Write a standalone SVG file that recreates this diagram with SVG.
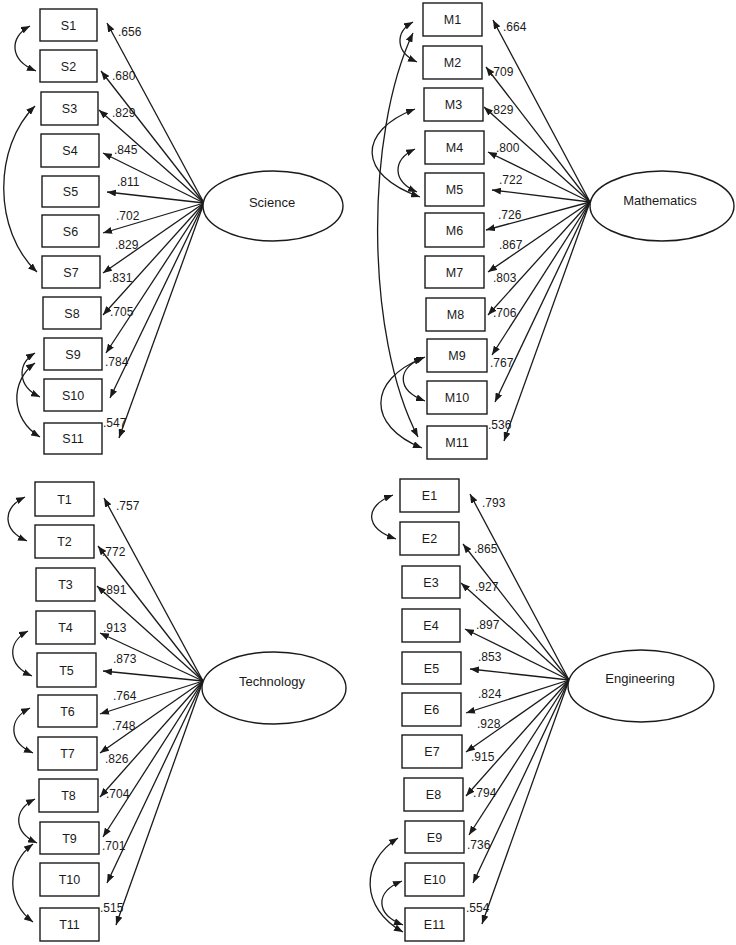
<svg xmlns="http://www.w3.org/2000/svg" width="736" height="945" viewBox="0 0 736 945">
<style>
.box{fill:#fff;stroke:#1a1a1a;stroke-width:1.4}
.lat{fill:#fff;stroke:#1a1a1a;stroke-width:1.4}
.nt{font-family:"Liberation Sans",Arial,sans-serif;font-size:12.5px;fill:#1a1a1a;text-anchor:middle}
.lt{font-family:"Liberation Sans",Arial,sans-serif;font-size:13px;fill:#1a1a1a;text-anchor:middle}
.ln{stroke:#1a1a1a;stroke-width:1.3;fill:none;marker-end:url(#ah)}
.cv{stroke:#1a1a1a;stroke-width:1.3;fill:none;marker-start:url(#ah);marker-end:url(#ah)}
.lb{font-family:"Liberation Sans",Arial,sans-serif;font-size:12px;fill:#1a1a1a}
</style>
<defs>
<marker id="ah" markerUnits="userSpaceOnUse" markerWidth="9" markerHeight="7" refX="9" refY="3.5" orient="auto-start-reverse" viewBox="0 0 9 7">
<path d="M0,0 L9,3.5 L0,7 z" fill="#1a1a1a"/>
</marker>
</defs>
<rect width="736" height="945" fill="#fff"/>

<g id="connectors">
<!-- Science loadings -->
<line class="ln" x1="204" y1="203" x2="107" y2="23"/>
<line class="ln" x1="204" y1="203" x2="101" y2="71"/>
<line class="ln" x1="204" y1="203" x2="99" y2="110"/>
<line class="ln" x1="204" y1="203" x2="103" y2="153"/>
<line class="ln" x1="204" y1="203" x2="107" y2="192"/>
<line class="ln" x1="204" y1="203" x2="103" y2="233"/>
<line class="ln" x1="204" y1="203" x2="103" y2="273"/>
<line class="ln" x1="204" y1="203" x2="103" y2="315"/>
<line class="ln" x1="204" y1="203" x2="106" y2="353"/>
<line class="ln" x1="204" y1="203" x2="110" y2="398"/>
<line class="ln" x1="204" y1="203" x2="119" y2="438"/>
<!-- Science correlations -->
<path class="cv" d="M30,26 C9,37 9,60 36,71"/>
<path class="cv" d="M35,106 C-7,147 -7,231 37,272"/>
<path class="cv" d="M35,353 C17,364 17,386 40,397"/>
<path class="cv" d="M35,363 C10,381 10,419 40,437"/>
<!-- Math loadings -->
<line class="ln" x1="590" y1="202" x2="493" y2="20"/>
<line class="ln" x1="590" y1="202" x2="486" y2="67"/>
<line class="ln" x1="590" y1="202" x2="484" y2="107"/>
<line class="ln" x1="590" y1="202" x2="488" y2="152"/>
<line class="ln" x1="590" y1="202" x2="492" y2="190"/>
<line class="ln" x1="590" y1="202" x2="486" y2="230"/>
<line class="ln" x1="590" y1="202" x2="488" y2="272"/>
<line class="ln" x1="590" y1="202" x2="488" y2="315"/>
<line class="ln" x1="590" y1="202" x2="492" y2="355"/>
<line class="ln" x1="590" y1="202" x2="495" y2="402"/>
<line class="ln" x1="590" y1="202" x2="504" y2="441"/>
<!-- Math correlations -->
<path class="cv" d="M413,22 C395,32 395,52 417,62"/>
<path class="cv" d="M413,33 C365,134 365,336 418,437"/>
<path class="cv" d="M415,109 C357,131 357,175 420,197"/>
<path class="cv" d="M415,149 C392,160 392,181 417,192"/>
<path class="cv" d="M425,357 C396,368 396,390 425,401"/>
<path class="cv" d="M423,358 C367,380 367,426 422,448"/>
<!-- Tech loadings -->
<line class="ln" x1="203" y1="681" x2="104" y2="498"/>
<line class="ln" x1="203" y1="681" x2="98" y2="546"/>
<line class="ln" x1="203" y1="681" x2="97" y2="586"/>
<line class="ln" x1="203" y1="681" x2="100" y2="633"/>
<line class="ln" x1="203" y1="681" x2="103" y2="671"/>
<line class="ln" x1="203" y1="681" x2="100" y2="714"/>
<line class="ln" x1="203" y1="681" x2="100" y2="753"/>
<line class="ln" x1="203" y1="681" x2="100" y2="797"/>
<line class="ln" x1="203" y1="681" x2="103" y2="837"/>
<line class="ln" x1="203" y1="681" x2="107" y2="883"/>
<line class="ln" x1="203" y1="681" x2="116" y2="925"/>
<!-- Tech correlations -->
<path class="cv" d="M25,497 C2,508 2,530 27,541"/>
<path class="cv" d="M28,631 C7,642 7,665 32,676"/>
<path class="cv" d="M30,708 C8,719 8,742 33,753"/>
<path class="cv" d="M35,799 C13,810 13,832 37,843"/>
<path class="cv" d="M33,844 C6,864 6,902 33,922"/>
<!-- Eng loadings -->
<line class="ln" x1="569" y1="680" x2="470" y2="494"/>
<line class="ln" x1="569" y1="680" x2="463" y2="544"/>
<line class="ln" x1="569" y1="680" x2="461" y2="583"/>
<line class="ln" x1="569" y1="680" x2="465" y2="629"/>
<line class="ln" x1="569" y1="680" x2="470" y2="669"/>
<line class="ln" x1="569" y1="680" x2="466" y2="713"/>
<line class="ln" x1="569" y1="680" x2="466" y2="752"/>
<line class="ln" x1="569" y1="680" x2="466" y2="796"/>
<line class="ln" x1="569" y1="680" x2="469" y2="835"/>
<line class="ln" x1="569" y1="680" x2="473" y2="883"/>
<line class="ln" x1="569" y1="680" x2="482" y2="924"/>
<!-- Eng correlations -->
<path class="cv" d="M393,495 C364,506 364,528 396,539"/>
<path class="cv" d="M398,838 C360,862 360,908 403,932"/>
<path class="cv" d="M402,881 C375,892 375,914 403,925"/>

<g id="loading-labels">
<text class="lb" x="118" y="36">.656</text>
<text class="lb" x="112" y="80">.680</text>
<text class="lb" x="112" y="117">.829</text>
<text class="lb" x="114" y="154">.845</text>
<text class="lb" x="117" y="186">.811</text>
<text class="lb" x="116" y="220">.702</text>
<text class="lb" x="115" y="249">.829</text>
<text class="lb" x="109" y="282">.831</text>
<text class="lb" x="110" y="316">.705</text>
<text class="lb" x="105" y="366">.784</text>
<text class="lb" x="103" y="427">.547</text>

<text class="lb" x="503" y="31">.664</text>
<text class="lb" x="490" y="76">.709</text>
<text class="lb" x="490" y="114">.829</text>
<text class="lb" x="496" y="152">.800</text>
<text class="lb" x="499" y="184">.722</text>
<text class="lb" x="498" y="219">.726</text>
<text class="lb" x="499" y="249">.867</text>
<text class="lb" x="493" y="282">.803</text>
<text class="lb" x="493" y="317">.706</text>
<text class="lb" x="490" y="367">.767</text>
<text class="lb" x="488" y="429">.536</text>

<text class="lb" x="116" y="510">.757</text>
<text class="lb" x="102" y="556">.772</text>
<text class="lb" x="103" y="594">.891</text>
<text class="lb" x="103" y="632">.913</text>
<text class="lb" x="113" y="663">.873</text>
<text class="lb" x="113" y="700">.764</text>
<text class="lb" x="112" y="730">.748</text>
<text class="lb" x="105" y="763">.826</text>
<text class="lb" x="106" y="798">.704</text>
<text class="lb" x="102" y="850">.701</text>
<text class="lb" x="100" y="912">.515</text>

<text class="lb" x="482" y="507">.793</text>
<text class="lb" x="474" y="553">.865</text>
<text class="lb" x="475" y="591">.927</text>
<text class="lb" x="476" y="629">.897</text>
<text class="lb" x="478" y="661">.853</text>
<text class="lb" x="478" y="698">.824</text>
<text class="lb" x="477" y="728">.928</text>
<text class="lb" x="471" y="761">.915</text>
<text class="lb" x="473" y="797">.794</text>
<text class="lb" x="467" y="849">.736</text>
<text class="lb" x="466" y="912">.554</text>
</g>
</g>

<!-- Latent variables -->
<g id="Science"><ellipse class="lat" cx="273" cy="206" rx="70" ry="35"/><text class="lt" x="272" y="207">Science</text></g>
<g id="Mathematics"><ellipse class="lat" cx="662" cy="206" rx="72" ry="35"/><text class="lt" x="660" y="205">Mathematics</text></g>
<g id="Technology"><ellipse class="lat" cx="274" cy="688" rx="72" ry="36"/><text class="lt" x="272" y="686">Technology</text></g>
<g id="Engineering"><ellipse class="lat" cx="641" cy="686" rx="73" ry="36"/><text class="lt" x="640" y="683">Engineering</text></g>

<!-- Science indicators -->
<g id="S1"><rect class="box" x="40" y="9" width="57" height="32"/><text class="nt" x="68.5" y="29.5">S1</text></g>
<g id="S2"><rect class="box" x="40" y="50" width="57" height="32"/><text class="nt" x="68.5" y="70.5">S2</text></g>
<g id="S3"><rect class="box" x="41" y="92" width="57" height="33"/><text class="nt" x="69.5" y="113">S3</text></g>
<g id="S4"><rect class="box" x="41" y="134" width="58" height="33"/><text class="nt" x="70" y="155">S4</text></g>
<g id="S5"><rect class="box" x="42" y="176" width="57" height="31"/><text class="nt" x="70.5" y="196">S5</text></g>
<g id="S6"><rect class="box" x="42" y="215" width="57" height="32"/><text class="nt" x="70.5" y="235.5">S6</text></g>
<g id="S7"><rect class="box" x="42" y="256" width="58" height="32"/><text class="nt" x="71" y="276.5">S7</text></g>
<g id="S8"><rect class="box" x="43" y="297" width="58" height="32"/><text class="nt" x="72" y="317.5">S8</text></g>
<g id="S9"><rect class="box" x="44" y="338" width="58" height="32"/><text class="nt" x="73" y="358.5">S9</text></g>
<g id="S10"><rect class="box" x="44" y="379" width="58" height="32"/><text class="nt" x="73" y="399.5">S10</text></g>
<g id="S11"><rect class="box" x="44" y="423" width="58" height="31"/><text class="nt" x="73" y="443">S11</text></g>

<!-- Math indicators -->
<g id="M1"><rect class="box" x="423" y="3" width="59" height="33"/><text class="nt" x="452.5" y="24">M1</text></g>
<g id="M2"><rect class="box" x="423" y="46" width="59" height="33"/><text class="nt" x="452.5" y="67">M2</text></g>
<g id="M3"><rect class="box" x="424" y="88" width="59" height="33"/><text class="nt" x="453.5" y="109">M3</text></g>
<g id="M4"><rect class="box" x="425" y="131" width="59" height="33"/><text class="nt" x="454.5" y="152">M4</text></g>
<g id="M5"><rect class="box" x="425" y="173" width="59" height="33"/><text class="nt" x="454.5" y="194">M5</text></g>
<g id="M6"><rect class="box" x="425" y="213" width="59" height="34"/><text class="nt" x="454.5" y="234.5">M6</text></g>
<g id="M7"><rect class="box" x="425" y="256" width="59" height="32"/><text class="nt" x="454.5" y="276.5">M7</text></g>
<g id="M8"><rect class="box" x="426" y="298" width="59" height="33"/><text class="nt" x="455.5" y="319">M8</text></g>
<g id="M9"><rect class="box" x="427" y="339" width="60" height="33"/><text class="nt" x="457" y="360">M9</text></g>
<g id="M10"><rect class="box" x="427" y="381" width="60" height="33"/><text class="nt" x="457" y="402">M10</text></g>
<g id="M11"><rect class="box" x="427" y="426" width="60" height="33"/><text class="nt" x="457" y="447">M11</text></g>

<!-- Tech indicators -->
<g id="T1"><rect class="box" x="35" y="482" width="59" height="34"/><text class="nt" x="64.5" y="503.5">T1</text></g>
<g id="T2"><rect class="box" x="35" y="525" width="59" height="33"/><text class="nt" x="64.5" y="546">T2</text></g>
<g id="T3"><rect class="box" x="36" y="568" width="59" height="33"/><text class="nt" x="65.5" y="589">T3</text></g>
<g id="T4"><rect class="box" x="36" y="611" width="59" height="33"/><text class="nt" x="65.5" y="632">T4</text></g>
<g id="T5"><rect class="box" x="37" y="653" width="59" height="34"/><text class="nt" x="66.5" y="674.5">T5</text></g>
<g id="T6"><rect class="box" x="38" y="695" width="59" height="32"/><text class="nt" x="67.5" y="715.5">T6</text></g>
<g id="T7"><rect class="box" x="38" y="737" width="59" height="33"/><text class="nt" x="67.5" y="758">T7</text></g>
<g id="T8"><rect class="box" x="39" y="779" width="59" height="33"/><text class="nt" x="68.5" y="800">T8</text></g>
<g id="T9"><rect class="box" x="40" y="822" width="59" height="32"/><text class="nt" x="69.5" y="842.5">T9</text></g>
<g id="T10"><rect class="box" x="40" y="863" width="59" height="33"/><text class="nt" x="69.5" y="884">T10</text></g>
<g id="T11"><rect class="box" x="40" y="908" width="59" height="33"/><text class="nt" x="69.5" y="929">T11</text></g>

<!-- Eng indicators -->
<g id="E1"><rect class="box" x="400" y="479" width="59" height="33"/><text class="nt" x="429.5" y="500">E1</text></g>
<g id="E2"><rect class="box" x="400" y="522" width="59" height="33"/><text class="nt" x="429.5" y="543">E2</text></g>
<g id="E3"><rect class="box" x="402" y="566" width="58" height="32"/><text class="nt" x="431" y="586.5">E3</text></g>
<g id="E4"><rect class="box" x="402" y="609" width="58" height="33"/><text class="nt" x="431" y="630">E4</text></g>
<g id="E5"><rect class="box" x="402" y="652" width="59" height="32"/><text class="nt" x="431.5" y="672.5">E5</text></g>
<g id="E6"><rect class="box" x="402" y="693" width="59" height="33"/><text class="nt" x="431.5" y="714">E6</text></g>
<g id="E7"><rect class="box" x="402" y="735" width="60" height="33"/><text class="nt" x="432" y="756">E7</text></g>
<g id="E8"><rect class="box" x="404" y="778" width="59" height="33"/><text class="nt" x="433.5" y="799">E8</text></g>
<g id="E9"><rect class="box" x="405" y="821" width="59" height="32"/><text class="nt" x="434.5" y="841.5">E9</text></g>
<g id="E10"><rect class="box" x="405" y="863" width="59" height="33"/><text class="nt" x="434.5" y="884">E10</text></g>
<g id="E11"><rect class="box" x="405" y="908" width="59" height="33"/><text class="nt" x="434.5" y="929">E11</text></g>
</svg>
